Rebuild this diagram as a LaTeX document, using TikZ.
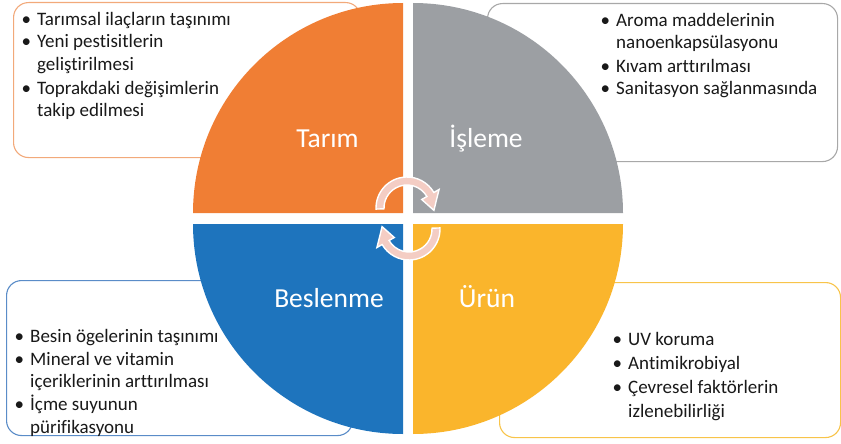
\documentclass[tikz,border=0pt]{standalone}
\usepackage{fontspec}
\setmainfont{Carlito}[Ligatures=CommonOff]
\definecolor{qorange}{HTML}{F07E34}
\definecolor{qgray}{HTML}{9C9FA3}
\definecolor{qblue}{HTML}{1E74BD}
\definecolor{qyellow}{HTML}{FAB52C}
\definecolor{borange}{HTML}{F2A97A}
\definecolor{bgray}{HTML}{A8A8A8}
\definecolor{bblue}{HTML}{5A8CC8}
\definecolor{byellow}{HTML}{F8C44A}
\definecolor{arrowpink}{HTML}{F4CDC4}
\newcommand{\bul}{\makebox[0pt][r]{\textbullet\hspace{6pt}}}
\begin{document}
\begin{tikzpicture}[x=1pt,y=-1pt,
  box/.style={draw, fill=white, rounded corners=15pt, line width=1.1pt, anchor=north west, inner sep=0pt},
  itemtext/.style={anchor=base west, align=left, inner sep=0pt, text=black!90, font={\fontsize{19}{22.6}\selectfont}},
  quadlabel/.style={anchor=base, inner sep=0pt, text=white, font={\fontsize{27.5}{30}\selectfont}},
  cyclearrow/.style={fill=arrowpink, draw=white, line width=1.4pt, line join=miter}]
\useasboundingbox (0,0) rectangle (841,444);
% boxes
\node (boxA) [box, draw=borange, minimum width=347pt, minimum height=155pt] at (13,2) {};
\node (boxB) [box, draw=bgray, minimum width=350pt, minimum height=158pt] at (487,3) {};
\node (boxC) [box, draw=bblue, minimum width=346pt, minimum height=155pt] at (6,280) {};
\node (boxD) [box, draw=byellow, minimum width=341pt, minimum height=155pt] at (499,282) {};
% quadrants
\fill[qorange] (403,213) -- (193,213) arc[start angle=180, end angle=270, radius=210] -- cycle;
\fill[qgray] (413,213) -- (413,3) arc[start angle=270, end angle=360, radius=210] -- cycle;
\fill[qyellow] (413,224) -- (623,224) arc[start angle=0, end angle=90, radius=210] -- cycle;
\fill[qblue] (403,224) -- (403,434) arc[start angle=90, end angle=180, radius=210] -- cycle;
% labels
\node (tarim) [quadlabel] at (327.5,147) {Tarım};
\node (isleme) [quadlabel] at (486,147) {İşleme};
\node (beslenme) [quadlabel] at (329,307) {Beslenme};
\node (urun) [quadlabel] at (487,307) {Ürün};
% cycle arrows
\begin{scope}[shift={(407,208)}]
\filldraw[cyclearrow] (178:31) arc[start angle=178, end angle=330, radius=31] -- (330:37) -- (5:27) -- (330:17) -- (330:23) arc[start angle=330, end angle=178, radius=23] -- cycle;
\end{scope}
\begin{scope}[shift={(409,229)}]
\filldraw[cyclearrow] (358:31) arc[start angle=358, end angle=510, radius=31] -- (150:37) -- (185:27) -- (150:17) -- (150:23) arc[start angle=510, end angle=358, radius=23] -- cycle;
\end{scope}
% texts (anchor base = baseline of the last line)
\node (textA) [itemtext] at (37,117) {\bul Tarımsal ilaçların taşınımı\\ \bul Yeni pestisitlerin\\ geliştirilmesi\\[1.5pt] \bul Toprakdaki değişimlerin\\ takip edilmesi};
\node (textB) [itemtext] at (616,95) {\bul Aroma maddelerinin\\ nanoenkapsülasyonu\\[1pt] \bul Kıvam arttırılması\\ \bul Sanitasyon sağlanmasında};
\node (textC) [itemtext] at (30,433) {\bul Besin ögelerinin taşınımı\\ \bul Mineral ve vitamin\\ içeriklerinin arttırılması\\ \bul İçme suyunun\\ pürifikasyonu};
\node (textD) [itemtext] at (628,417) {\bul UV koruma\\[1.5pt] \bul Antimikrobiyal\\[1pt] \bul Çevresel faktörlerin\\[1pt] izlenebilirliği};
\end{tikzpicture}
\end{document}
